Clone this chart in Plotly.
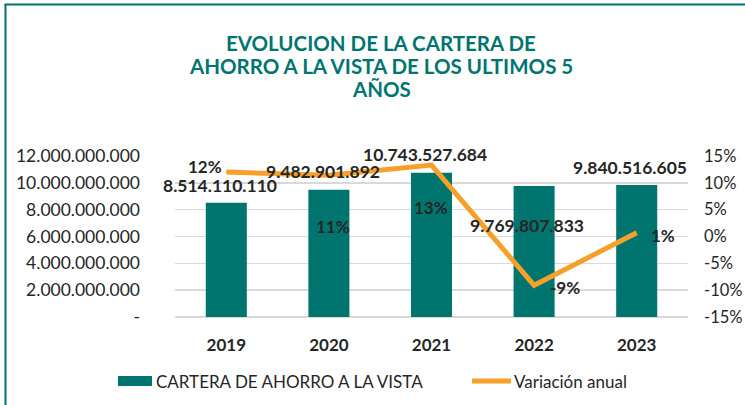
import plotly.graph_objects as go

years = ["2019", "2020", "2021", "2022", "2023"]
cartera = [8514110110, 9482901892, 10743527684, 9769807833, 9840516605]
variacion = [0.12, 0.114, 0.133, -0.091, 0.007]
cartera_labels = ["8.514.110.110", "9.482.901.892", "10.743.527.684", "9.769.807.833", "9.840.516.605"]
var_labels = ["12%", "11%", "13%", "-9%", "1%"]
left_ticks = [0, 2e9, 4e9, 6e9, 8e9, 10e9, 12e9]
left_ticktext = ["-", "2.000.000.000", "4.000.000.000", "6.000.000.000", "8.000.000.000", "10.000.000.000", "12.000.000.000"]
right_ticks = [-0.15, -0.10, -0.05, 0, 0.05, 0.10, 0.15]
right_ticktext = ["-15%", "-10%", "-5%", "0%", "5%", "10%", "15%"]
legend_names = ["CARTERA DE AHORRO A LA VISTA", "Variación anual"]
title_lines = ["EVOLUCION DE LA CARTERA DE", "AHORRO A LA VISTA DE LOS ULTIMOS 5", "AÑOS"]

TEAL = "#007570"
ORANGE = "#F6A02A"
DARK = "#262626"
FONT = "Lato"

W, H = 745, 405
L, R, T, B = 175, 57, 156, 88

fig = go.Figure()
fig.add_trace(go.Bar(x=years, y=cartera, name=legend_names[0],
                     marker=dict(color=TEAL, line=dict(width=0)), width=0.4, hoverinfo="skip"))
fig.add_trace(go.Scatter(x=years, y=variacion, name=legend_names[1], yaxis="y2",
                         mode="lines", line=dict(color=ORANGE, width=5), hoverinfo="skip"))

px = lambda p: (p - L) / (W - L - R)
py = lambda p: (H - B - p) / (H - T - B)

annotations = []
bar_off = [(-6, 17), (-6, 18), (-7, 18), (-7, -40), (-7, 17)]
for i, (dx, dy) in enumerate(bar_off):
    annotations.append(dict(x=i, y=cartera[i], xref="x", yref="y", text="<b>" + cartera_labels[i] + "</b>",
                            showarrow=False, xshift=dx, yshift=dy, borderpad=0,
                            font=dict(family=FONT, size=17.5, color=DARK)))
var_off = [(-21, 6), (4, -51), (-1, -42), (31, -2), (26, -3)]
for i, (dx, dy) in enumerate(var_off):
    annotations.append(dict(x=i, y=variacion[i], xref="x", yref="y2", text="<b>" + var_labels[i] + "</b>",
                            showarrow=False, xshift=dx, yshift=dy, borderpad=0,
                            font=dict(family=FONT, size=17, color=DARK)))

# title lines
for j, (line, yy) in enumerate(zip(title_lines, [43, 66, 89])):
    annotations.append(dict(x=px(381), y=py(yy), xref="paper", yref="paper", xanchor="center",
                            yanchor="middle", text="<b>" + line + "</b>", showarrow=False,
                            font=dict(family=FONT, size=20.5, color=TEAL)))

# manual legend
annotations.append(dict(x=px(154), y=py(381), xref="paper", yref="paper", xanchor="left", yanchor="middle",
                        text=legend_names[0], showarrow=False, font=dict(family=FONT, size=17, color=DARK)))
annotations.append(dict(x=px(512), y=py(381), xref="paper", yref="paper", xanchor="left", yanchor="middle",
                        text=legend_names[1], showarrow=False, font=dict(family=FONT, size=17, color=DARK)))

shapes = [
    dict(type="line", xref="paper", yref="paper", x0=px(5.5), x1=px(5.5), y0=py(4), y1=py(420),
         line=dict(color=TEAL, width=2)),
    dict(type="line", xref="paper", yref="paper", x0=px(4.5), x1=px(760), y0=py(4.5), y1=py(4.5),
         line=dict(color=TEAL, width=2)),
    dict(type="rect", xref="paper", yref="paper", x0=px(118), x1=px(152), y0=py(376), y1=py(386),
         fillcolor=TEAL, line=dict(width=0)),
    dict(type="line", xref="paper", yref="paper", x0=px(472), x1=px(511), y0=py(381), y1=py(381),
         line=dict(color=ORANGE, width=5)),
]

fig.update_layout(
    width=W, height=H,
    margin=dict(l=L, r=R, t=T, b=B, autoexpand=False),
    paper_bgcolor="white", plot_bgcolor="white",
    font=dict(family=FONT, color=DARK),
    showlegend=False,
    hovermode=False,
    annotations=annotations,
    shapes=shapes,
    xaxis=dict(type="category", tickfont=dict(family=FONT, size=17, color=DARK),
               tickvals=years, ticktext=["<b>%s</b>" % y for y in years],
               showline=False, showgrid=False, ticks="", range=[-0.5, 4.5], automargin=False,
               ticklabelstandoff=16),
    yaxis=dict(range=[0, 12e9], tickvals=left_ticks, ticktext=left_ticktext,
               tickfont=dict(family=FONT, size=17.5, color=DARK), gridcolor="#D9D9D9", gridwidth=1.5,
               zeroline=True, zerolinecolor="#D9D9D9", zerolinewidth=1.5, showline=False, ticks="",
               automargin=False, ticklabelstandoff=34),
    yaxis2=dict(range=[-0.15, 0.15], tickvals=right_ticks, ticktext=right_ticktext, overlaying="y",
                side="right", showgrid=False, zeroline=False, showline=False, ticks="",
                tickfont=dict(family=FONT, size=16.5, color=DARK), automargin=False,
                ticklabelstandoff=15),
)

fig.write_html("out.html", config={"displayModeBar": False, "staticPlot": True},
               post_script="document.body.style.margin='0';document.body.style.overflow='hidden';")
